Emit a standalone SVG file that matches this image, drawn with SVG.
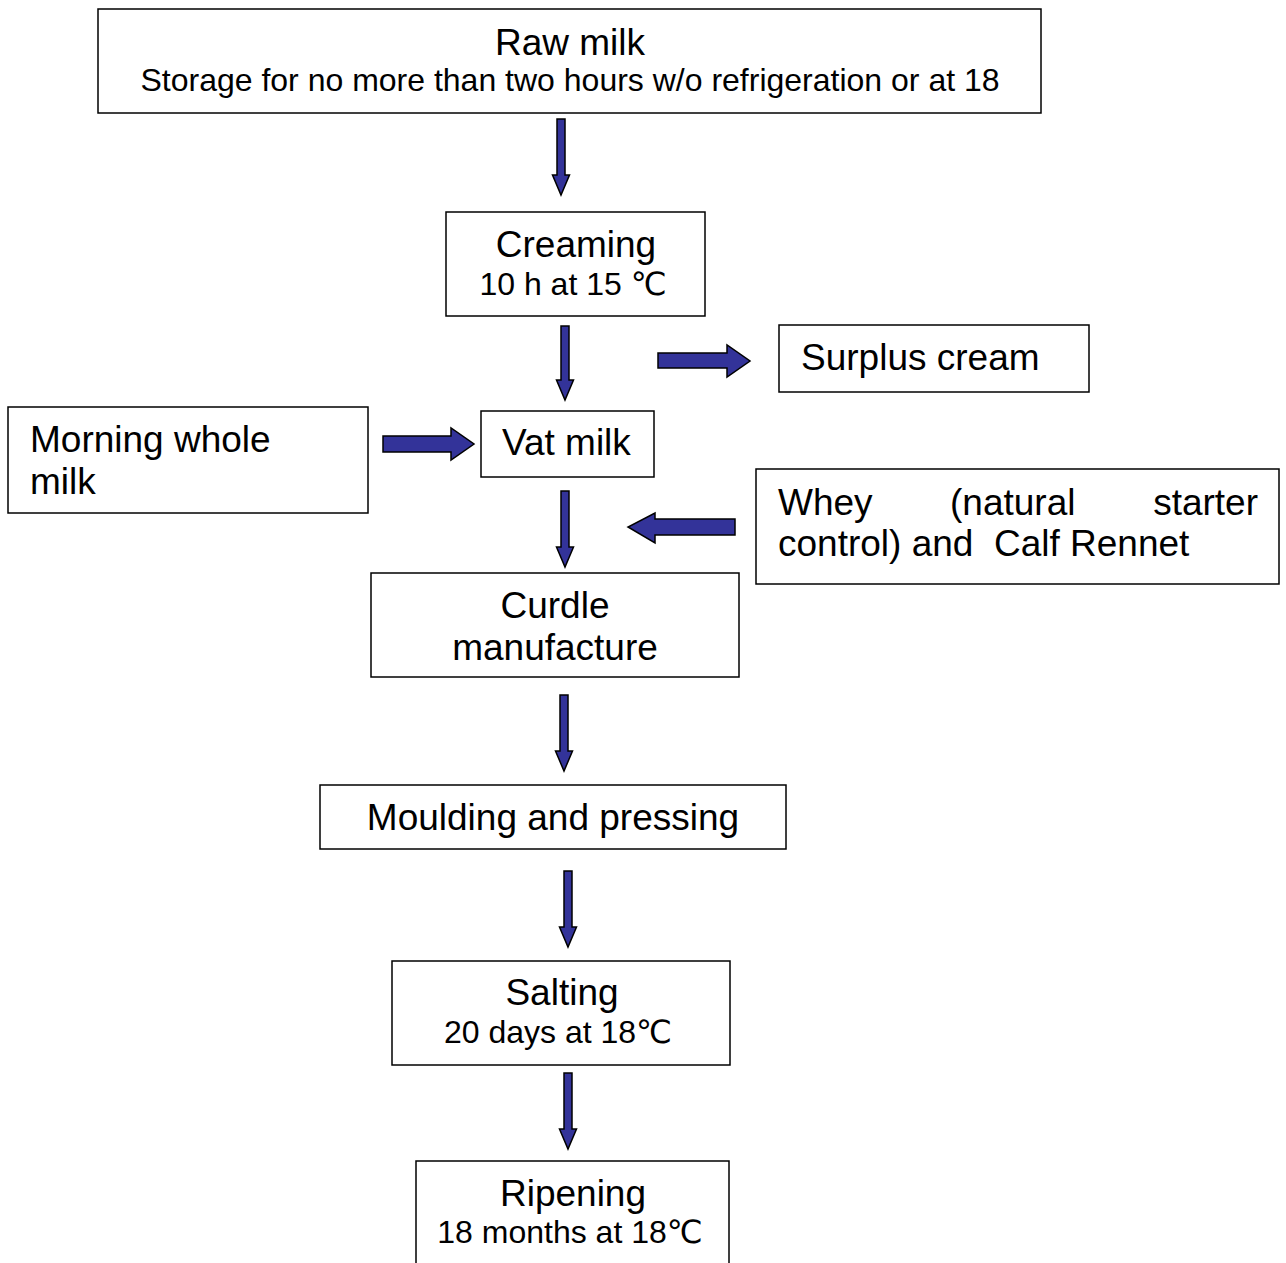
<svg xmlns="http://www.w3.org/2000/svg" width="1286" height="1263" viewBox="0 0 1286 1263">
<style>
.box{fill:#fff;stroke:#000;stroke-width:1.5}
.t{font-family:"Liberation Sans",Arial,"DejaVu Sans",sans-serif;font-size:37px;fill:#000}
.s{font-family:"Liberation Sans",Arial,"DejaVu Sans",sans-serif;font-size:32px;fill:#000}
.m{text-anchor:middle}
.e{text-anchor:end}
.arr{fill:#333399;stroke:#000;stroke-width:1.5;stroke-linejoin:miter}
</style>
<rect width="1286" height="1263" fill="#fff"/>
<g id="connectors">
<path class="arr" d="M557 119 H565 V175 H569.5 L561 195 L552.5 175 H557 Z"/>
<path class="arr" d="M561 326 H569 V380 H573.5 L565 400 L556.5 380 H561 Z"/>
<path class="arr" d="M561 491 H569 V547 H573.5 L565 567 L556.5 547 H561 Z"/>
<path class="arr" d="M560 695 H568 V751 H572.5 L564 771 L555.5 751 H560 Z"/>
<path class="arr" d="M564 871 H572 V927 H576.5 L568 947 L559.5 927 H564 Z"/>
<path class="arr" d="M564 1073 H572 V1129 H576.5 L568 1149 L559.5 1129 H564 Z"/>
<path class="arr" d="M658 353 H727 V345 L750 361 L727 377 V368 H658 Z"/>
<path class="arr" d="M383 436 H451 V428 L474 444 L451 460 V452 H383 Z"/>
<path class="arr" d="M735 519 H655 V513 L628 527 L655 543 V535 H735 Z"/>
</g>
<g id="raw-milk">
<rect class="box" x="98" y="9" width="943" height="104"/>
<text class="t m" x="570" y="55">Raw milk</text>
<text class="s m" x="570" y="91">Storage for no more than two hours w/o refrigeration or at 18</text>
</g>
<g id="creaming">
<rect class="box" x="446" y="212" width="259" height="104"/>
<text class="t m" x="576" y="257">Creaming</text>
<text class="s m" x="573" y="295">10 h at 15 ℃</text>
</g>
<g id="surplus-cream">
<rect class="box" x="779" y="325" width="310" height="67"/>
<text class="t" x="801" y="370">Surplus cream</text>
</g>
<g id="morning-whole-milk">
<rect class="box" x="8" y="407" width="360" height="106"/>
<text class="t" x="30" y="452">Morning whole</text>
<text class="t" x="30" y="494">milk</text>
</g>
<g id="vat-milk">
<rect class="box" x="481" y="411" width="173" height="66"/>
<text class="t" x="502" y="455">Vat milk</text>
</g>
<g id="whey">
<rect class="box" x="756" y="469" width="523" height="115"/>
<text class="t" x="778" y="515">Whey</text>
<text class="t" x="950" y="515">(natural</text>
<text class="t e" x="1258" y="515">starter</text>
<text class="t" x="778" y="556" xml:space="preserve">control) and  Calf Rennet</text>
</g>
<g id="curdle-manufacture">
<rect class="box" x="371" y="573" width="368" height="104"/>
<text class="t m" x="555" y="618">Curdle</text>
<text class="t m" x="555" y="660">manufacture</text>
</g>
<g id="moulding-pressing">
<rect class="box" x="320" y="785" width="466" height="64"/>
<text class="t m" x="553" y="830">Moulding and pressing</text>
</g>
<g id="salting">
<rect class="box" x="392" y="961" width="338" height="104"/>
<text class="t m" x="562" y="1005">Salting</text>
<text class="s m" x="558" y="1043">20 days at 18℃</text>
</g>
<g id="ripening">
<rect class="box" x="416" y="1161" width="313" height="110"/>
<text class="t m" x="573" y="1206">Ripening</text>
<text class="s m" x="570" y="1243">18 months at 18℃</text>
</g>
</svg>
